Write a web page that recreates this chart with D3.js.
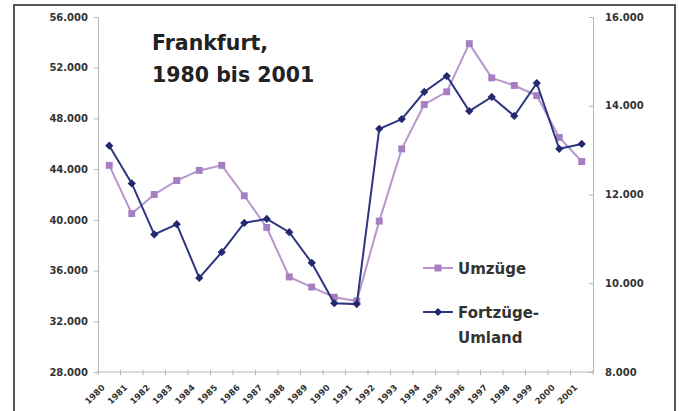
<!DOCTYPE html>
<html>
<head>
<meta charset="utf-8">
<script src="https://cdn.jsdelivr.net/npm/d3@7"></script>
<style>
  html, body { margin: 0; padding: 0; background: #fff; }
  svg { display: block; font-family: "DejaVu Sans", Verdana, sans-serif; }
</style>
</head>
<body>
<svg id="chart" width="679" height="411"></svg>
<script>
// Jahre 1980 bis 2001
const years = ["1980","1981","1982","1983","1984","1985","1986","1987","1988","1989","1990",
               "1991","1992","1993","1994","1995","1996","1997","1998","1999","2000","2001"];

// Umzüge innerhalb der Stadt (linke Achse)
const umzuege = [44300, 40500, 42000, 43100, 43900, 44300, 41900, 39400, 35500, 34700, 33900,
                 33600, 39900, 45600, 49100, 50100, 53900, 51200, 50600, 49800, 46500, 44600];

// Fortzüge ins Umland (rechte Achse)
const fortzuege = [13100, 12250, 11100, 11330, 10120, 10700, 11360, 11450, 11150, 10460, 9550,
                   9530, 13480, 13700, 14310, 14670, 13880, 14200, 13770, 14510, 13030, 13140];

const leftTicks = [28000, 32000, 36000, 40000, 44000, 48000, 52000, 56000];
const rightTicks = [8000, 10000, 12000, 14000, 16000];

const titleLines = ["Frankfurt,", "1980 bis 2001"];
const legendItems = [
  { lines: ["Umzüge"], color: "#a67fc0", line: "#b896cc", shape: "square" },
  { lines: ["Fortzüge-", "Umland"], color: "#23286f", line: "#2f3680", shape: "diamond" }
];

const de = d3.formatLocale({ decimal: ",", thousands: ".", grouping: [3], currency: ["", " €"] });
const fmt = de.format(",.0f");

const svg = d3.select("#chart");

// Rahmen
svg.append("rect")
  .attr("x", 14).attr("y", 5).attr("width", 661).attr("height", 420)
  .attr("fill", "#fff").attr("stroke", "#555").attr("stroke-width", 2);

const plot = { left: 98, right: 593, top: 17, bottom: 372 };

const x = d3.scaleBand().domain(years).range([plot.left, plot.right]);
const cx = d => x(d) + x.bandwidth() / 2;
const yL = d3.scaleLinear().domain([28000, 56000]).range([plot.bottom, plot.top]);
const yR = d3.scaleLinear().domain([8000, 16000]).range([plot.bottom, plot.top]);

const axisColor = "#b5b5b5";
const labelColor = "#333";

// linke Achse
const gl = svg.append("g").attr("transform", `translate(${plot.left},0)`)
  .call(d3.axisLeft(yL).tickValues(leftTicks).tickFormat(fmt).tickSizeInner(4).tickSizeOuter(0).tickPadding(6));
gl.select(".domain").attr("stroke", axisColor);
gl.selectAll(".tick line").attr("stroke", axisColor);
gl.selectAll(".tick text")
  .attr("fill", labelColor).attr("font-size", 10).attr("font-weight", "bold")
  .attr("font-family", "DejaVu Sans, sans-serif");

// rechte Achse
const gr = svg.append("g").attr("transform", `translate(${plot.right},0)`)
  .call(d3.axisRight(yR).tickValues(rightTicks).tickFormat(fmt).tickSizeInner(-4).tickSizeOuter(0).tickPadding(12));
gr.select(".domain").attr("stroke", axisColor);
gr.selectAll(".tick line").attr("stroke", axisColor);
gr.selectAll(".tick text")
  .attr("fill", labelColor).attr("font-size", 10).attr("font-weight", "bold")
  .attr("font-family", "DejaVu Sans, sans-serif");

// untere Achse
const gb = svg.append("g").attr("transform", `translate(0,${plot.bottom})`);
gb.append("line")
  .attr("x1", plot.left).attr("x2", plot.right)
  .attr("stroke", axisColor);
gb.selectAll("line.tk")
  .data(years.concat(["end"]))
  .join("line").attr("class", "tk")
  .attr("x1", (d, i) => i < years.length ? x(d) : plot.right)
  .attr("x2", (d, i) => i < years.length ? x(d) : plot.right)
  .attr("y1", -2).attr("y2", 3)
  .attr("stroke", axisColor);
gb.selectAll("text")
  .data(years)
  .join("text")
  .attr("transform", d => `translate(${cx(d) - 6},14) rotate(-45)`)
  .attr("text-anchor", "end")
  .attr("dy", "0.35em")
  .attr("font-size", 8.5).attr("font-weight", "bold")
  .attr("fill", labelColor)
  .text(d => d);

// Markerformen
const squareSym = d3.symbol().type(d3.symbolSquare).size(48);
const diamondSym = d3.symbol().type(d3.symbolSquare).size(34);
const markerTransform = (shape, px, py) =>
  `translate(${px},${py})` + (shape === "diamond" ? " rotate(45)" : "");

// Linien und Marker
function drawSeries(values, yScale, item) {
  const line = d3.line().x((d, i) => cx(years[i])).y(d => yScale(d));
  svg.append("path").datum(values)
    .attr("d", line).attr("fill", "none")
    .attr("stroke", item.line).attr("stroke-width", 2);
  svg.append("g").selectAll("path")
    .data(values)
    .join("path")
    .attr("transform", (d, i) => markerTransform(item.shape, cx(years[i]), yScale(d)))
    .attr("d", item.shape === "square" ? squareSym : diamondSym)
    .attr("fill", item.color);
}
drawSeries(umzuege, yL, legendItems[0]);
drawSeries(fortzuege, yR, legendItems[1]);

// Titel
svg.append("g").selectAll("text")
  .data(titleLines)
  .join("text")
  .attr("x", 152).attr("y", (d, i) => 50 + i * 32)
  .attr("font-size", 20.5).attr("font-weight", "bold")
  .attr("fill", "#222")
  .text(d => d);

// Legende
const legendY = [268, 312];
legendItems.forEach((item, k) => {
  const g = svg.append("g").attr("transform", `translate(0,${legendY[k]})`);
  g.append("line").attr("x1", 423).attr("x2", 453).attr("y1", 0).attr("y2", 0)
    .attr("stroke", item.line).attr("stroke-width", 2);
  g.append("path")
    .attr("transform", markerTransform(item.shape, 438, 0))
    .attr("d", item.shape === "square" ? squareSym() : diamondSym())
    .attr("fill", item.color);
  item.lines.forEach((t, j) => {
    g.append("text")
      .attr("x", 458).attr("y", 5.5 + j * 25)
      .attr("font-size", 15).attr("font-weight", "bold")
      .attr("fill", "#333")
      .text(t);
  });
});
</script>
</body>
</html>
